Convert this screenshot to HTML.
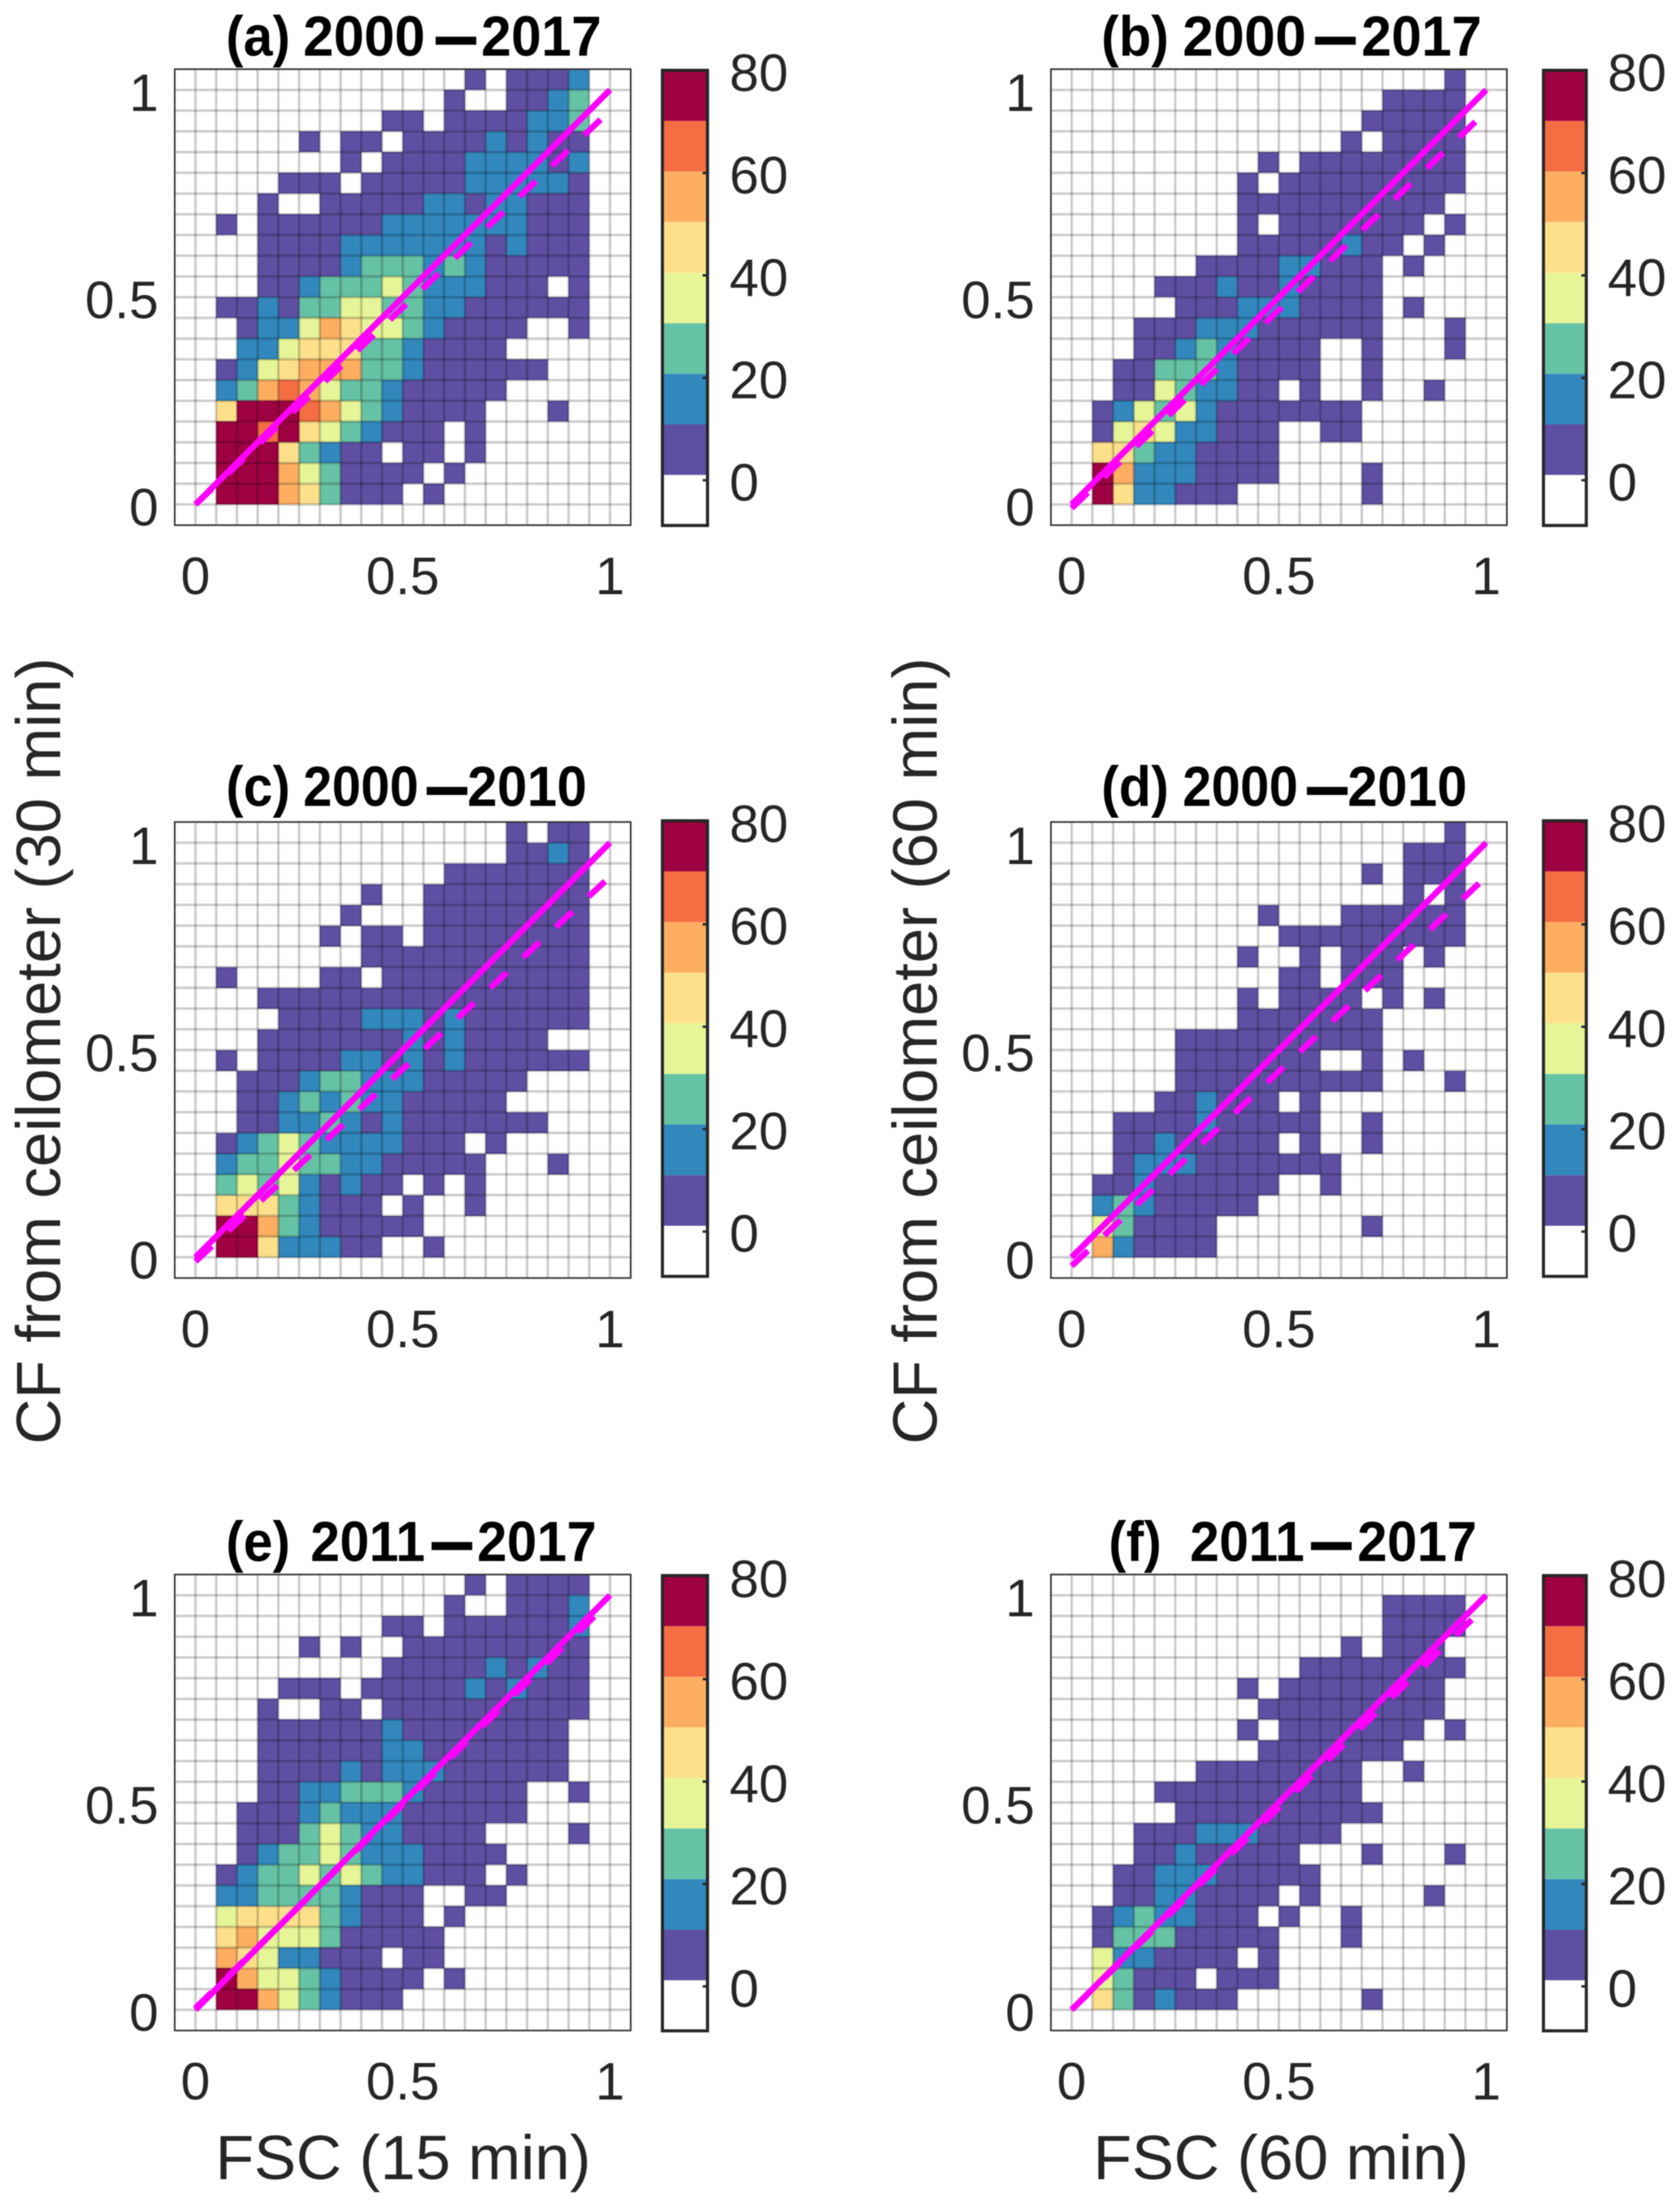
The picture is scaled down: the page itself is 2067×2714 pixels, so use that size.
<!DOCTYPE html>
<html lang="en">
<head>
<meta charset="utf-8">
<title>CF from ceilometer versus FSC</title>
<style>
html,body{margin:0;padding:0;background:#fff;}
svg{display:block;filter:blur(0.6px);}
text{font-family:"Liberation Sans",Arial,sans-serif;fill:#262626;}
</style>
</head>
<body>
<svg id="chart" xmlns="http://www.w3.org/2000/svg" width="2067" height="2714" viewBox="0 0 2067 2714">
<rect x="0" y="0" width="2067" height="2714" fill="#fff"/>
<text transform="translate(74,1293) rotate(-90)" text-anchor="middle" font-size="77" textLength="968" lengthAdjust="spacingAndGlyphs">CF from ceilometer (30 min)</text>
<text transform="translate(1152.7,1293) rotate(-90)" text-anchor="middle" font-size="77" textLength="968" lengthAdjust="spacingAndGlyphs">CF from ceilometer (60 min)</text>
<text x="265" y="2681" font-size="77" textLength="462" lengthAdjust="spacingAndGlyphs">FSC (15 min)</text>
<text x="1345" y="2681" font-size="77" textLength="462" lengthAdjust="spacingAndGlyphs">FSC (60 min)</text>
</svg>
<script>
// Heatmap counts: rows run top (CF 1.00-1.05) to bottom (CF 0.00-0.05); columns run FSC 0.05-0.10 to 0.95-1.00.
const countsA=[
[0,0,0,0,0,0,0,0,0,0,0,0,5,0,5,5,5,15],
[0,0,0,0,0,0,0,0,0,0,0,5,0,0,5,5,15,25],
[0,0,0,0,0,0,0,0,5,5,0,5,5,5,5,15,15,25],
[0,0,0,0,5,0,5,5,0,5,5,5,5,15,5,15,5,5],
[0,0,0,0,0,0,5,0,5,5,5,5,15,15,15,15,5,15],
[0,0,0,5,5,5,0,5,5,5,5,5,15,15,15,15,15,5],
[0,0,5,0,0,5,5,5,5,5,15,15,5,15,15,5,5,5],
[5,0,5,5,5,5,5,5,15,15,15,15,15,15,15,5,5,5],
[0,0,5,5,5,5,15,15,15,15,15,15,15,5,15,5,5,5],
[0,0,5,5,5,5,15,25,25,25,15,25,15,5,5,5,5,5],
[0,0,5,5,15,25,25,25,35,25,15,15,15,5,5,5,0,5],
[5,5,15,5,25,25,35,35,25,25,15,15,5,5,5,5,5,5],
[0,5,15,15,35,55,45,35,35,25,15,5,5,5,5,0,0,5],
[0,15,15,35,45,45,45,25,25,15,5,5,5,5,0,0,0,0],
[5,15,35,45,55,55,55,25,25,15,5,5,5,5,5,5,0,0],
[15,25,55,65,55,35,25,25,15,5,5,5,5,5,0,0,0,0],
[45,75,75,75,65,55,35,25,15,5,5,5,5,0,0,0,5,0],
[75,75,65,75,45,35,25,15,5,5,5,0,5,0,0,0,0,0],
[75,75,75,45,25,15,5,5,0,5,5,0,5,0,0,0,0,0],
[75,75,75,55,35,25,5,5,5,5,0,5,0,0,0,0,0,0],
[75,75,75,55,45,25,5,5,5,0,5,0,0,0,0,0,0,0]
];
const countsB=[
[0,0,0,0,0,0,0,0,0,0,0,0,0,0,0,0,0,5],
[0,0,0,0,0,0,0,0,0,0,0,0,0,0,5,5,5,5],
[0,0,0,0,0,0,0,0,0,0,0,0,0,5,5,5,5,5],
[0,0,0,0,0,0,0,0,0,0,0,0,5,0,5,5,5,5],
[0,0,0,0,0,0,0,0,5,0,5,5,5,5,5,5,5,5],
[0,0,0,0,0,0,0,5,0,5,5,5,5,5,5,5,5,5],
[0,0,0,0,0,0,0,5,5,5,5,5,5,5,5,5,5,0],
[0,0,0,0,0,0,0,5,0,5,5,5,5,5,5,5,0,5],
[0,0,0,0,0,0,0,5,5,5,5,5,15,5,5,0,5,0],
[0,0,0,0,0,5,5,5,5,15,15,5,5,5,0,5,0,0],
[0,0,0,5,5,5,15,5,5,15,5,5,5,5,0,0,0,0],
[0,0,0,0,5,5,5,15,15,15,5,5,5,5,0,5,0,0],
[0,0,5,5,5,15,15,15,5,5,5,5,5,5,0,0,0,5],
[0,0,5,5,15,25,15,5,5,5,5,0,0,5,0,0,0,5],
[0,5,5,25,25,25,15,5,5,5,5,0,0,5,0,0,0,0],
[0,5,5,35,25,15,15,5,5,0,5,0,0,5,0,0,5,0],
[5,15,35,25,35,15,5,5,5,5,5,5,5,0,0,0,0,0],
[5,35,45,35,15,15,5,5,5,0,0,5,5,0,0,0,0,0],
[45,45,25,15,15,5,5,5,5,0,0,0,0,0,0,0,0,0],
[75,55,15,15,15,5,5,5,5,0,0,0,0,5,0,0,0,0],
[75,45,15,15,5,5,5,0,0,0,0,0,0,5,0,0,0,0]
];
const countsC=[
[0,0,0,0,0,0,0,0,0,0,0,0,0,0,5,0,5,5],
[0,0,0,0,0,0,0,0,0,0,0,0,0,0,5,5,15,5],
[0,0,0,0,0,0,0,0,0,0,0,5,5,5,5,5,5,5],
[0,0,0,0,0,0,0,5,0,0,5,5,5,5,5,5,5,5],
[0,0,0,0,0,0,5,0,0,0,5,5,5,5,5,5,5,5],
[0,0,0,0,0,5,0,5,5,0,5,5,5,5,5,5,5,5],
[0,0,0,0,0,0,0,5,5,5,5,5,5,5,5,5,5,5],
[5,0,0,0,0,5,5,0,5,5,5,5,5,5,5,5,5,5],
[0,0,5,5,5,5,5,5,5,5,5,5,5,5,5,5,5,5],
[0,0,0,5,5,5,5,15,15,15,5,15,5,5,5,5,5,5],
[0,0,5,5,5,5,5,5,5,15,5,15,5,5,5,5,0,0],
[5,0,5,5,5,5,15,15,5,15,5,15,5,5,5,5,5,5],
[0,5,5,5,15,25,25,15,15,15,5,5,5,5,5,0,0,0],
[0,5,5,15,25,15,25,15,15,5,5,5,5,5,0,0,0,0],
[0,5,5,15,15,25,15,5,15,5,5,5,5,5,5,5,0,0],
[5,15,25,35,25,15,15,15,15,5,5,5,0,5,0,0,0,0],
[15,25,25,35,25,25,15,15,5,5,5,5,5,0,0,0,5,0],
[25,35,25,35,15,5,15,5,5,0,5,0,5,0,0,0,0,0],
[45,45,45,25,15,5,5,5,0,5,0,0,5,0,0,0,0,0],
[75,75,55,25,15,5,5,5,5,5,0,0,0,0,0,0,0,0],
[75,75,45,15,15,15,5,5,0,0,5,0,0,0,0,0,0,0]
];
const countsD=[
[0,0,0,0,0,0,0,0,0,0,0,0,0,0,0,0,0,5],
[0,0,0,0,0,0,0,0,0,0,0,0,0,0,0,5,5,5],
[0,0,0,0,0,0,0,0,0,0,0,0,0,5,0,5,5,5],
[0,0,0,0,0,0,0,0,0,0,0,0,0,0,0,5,0,5],
[0,0,0,0,0,0,0,0,5,0,0,0,5,5,5,5,5,5],
[0,0,0,0,0,0,0,0,0,5,5,5,5,5,5,5,5,5],
[0,0,0,0,0,0,0,5,0,0,5,0,5,5,5,0,5,0],
[0,0,0,0,0,0,0,0,0,5,5,0,5,5,5,0,0,0],
[0,0,0,0,0,0,0,5,0,5,5,5,5,0,5,0,5,0],
[0,0,0,0,0,0,0,5,5,5,5,5,5,5,0,0,0,0],
[0,0,0,0,5,5,5,5,5,5,5,5,5,5,0,0,0,0],
[0,0,0,0,5,5,5,5,5,5,5,0,0,5,0,5,0,0],
[0,0,0,0,5,5,5,5,5,5,5,5,5,5,0,0,0,5],
[0,0,0,5,5,15,5,5,5,0,5,0,0,0,0,0,0,0],
[0,5,5,5,5,15,5,5,5,5,5,0,0,5,0,0,0,0],
[0,5,5,15,5,5,5,5,5,0,5,0,0,5,0,0,0,0],
[0,5,15,15,15,5,5,5,5,5,5,5,0,0,0,0,0,0],
[5,5,15,5,5,5,5,5,5,0,0,5,0,0,0,0,0,0],
[15,25,15,5,5,5,5,5,0,0,0,0,0,0,0,0,0,0],
[35,25,5,5,5,5,0,0,0,0,0,0,0,5,0,0,0,0],
[55,15,5,5,5,5,0,0,0,0,0,0,0,0,0,0,0,0]
];
const countsE=[
[0,0,0,0,0,0,0,0,0,0,0,0,5,0,5,5,5,5],
[0,0,0,0,0,0,0,0,0,0,0,5,0,0,5,5,5,15],
[0,0,0,0,0,0,0,0,5,5,0,5,5,5,5,5,5,15],
[0,0,0,0,5,0,5,0,0,5,5,5,5,5,5,5,5,5],
[0,0,0,0,0,0,0,0,5,5,5,5,5,15,5,15,5,5],
[0,0,0,5,5,5,0,5,5,5,5,5,15,5,15,5,5,5],
[0,0,5,0,0,5,5,0,5,5,5,5,5,5,5,5,5,5],
[0,0,5,5,5,5,5,5,15,5,5,5,5,5,5,5,5,0],
[0,0,5,5,5,5,5,5,15,15,5,5,5,5,5,5,5,0],
[0,0,5,5,5,5,15,5,15,15,15,5,5,5,5,5,5,0],
[0,0,5,5,15,15,25,25,25,15,5,5,5,5,5,0,0,5],
[0,5,5,5,15,25,15,15,15,5,5,5,5,5,5,0,0,0],
[0,5,5,5,25,35,25,15,15,5,5,5,5,0,0,0,0,5],
[0,5,15,25,25,35,25,15,15,15,5,5,5,5,0,0,0,0],
[5,15,25,25,35,25,35,25,15,15,5,5,5,0,5,0,0,0],
[15,15,25,25,25,25,15,5,5,5,0,0,5,5,0,0,0,0],
[35,45,45,45,45,25,15,5,5,5,0,5,0,0,0,0,0,0],
[45,55,35,35,35,25,5,5,5,5,5,0,0,0,0,0,0,0],
[55,45,35,15,15,5,5,5,0,5,5,0,0,0,0,0,0,0],
[75,55,35,35,25,15,5,5,5,5,0,5,0,0,0,0,0,0],
[75,75,55,35,25,15,5,5,5,0,0,0,0,0,0,0,0,0]
];
const countsF=[
[0,0,0,0,0,0,0,0,0,0,0,0,0,0,0,0,0,0],
[0,0,0,0,0,0,0,0,0,0,0,0,0,0,5,5,5,5],
[0,0,0,0,0,0,0,0,0,0,0,0,0,0,5,5,5,5],
[0,0,0,0,0,0,0,0,0,0,0,0,5,0,5,5,5,0],
[0,0,0,0,0,0,0,0,0,0,5,5,5,5,5,5,5,5],
[0,0,0,0,0,0,0,5,0,5,5,5,5,5,5,5,5,0],
[0,0,0,0,0,0,0,0,5,5,5,5,5,5,5,5,5,0],
[0,0,0,0,0,0,0,5,0,5,5,5,5,5,5,5,0,5],
[0,0,0,0,0,0,0,0,5,5,5,5,5,5,5,0,0,0],
[0,0,0,0,0,5,5,5,5,5,5,5,5,0,0,5,0,0],
[0,0,0,5,5,5,5,5,5,5,5,5,5,0,0,0,0,0],
[0,0,0,0,5,5,5,5,5,5,5,5,5,5,0,0,0,0],
[0,0,5,5,5,15,15,15,5,5,5,5,0,0,0,0,0,0],
[0,0,5,5,15,5,5,5,5,5,0,0,0,5,0,0,0,5],
[0,5,5,15,15,15,5,5,5,5,5,0,0,0,0,0,0,0],
[0,5,5,15,15,5,5,5,5,0,5,0,0,0,0,0,5,0],
[5,15,25,15,15,5,5,5,0,5,0,0,5,0,0,0,0,0],
[5,25,25,25,5,5,5,5,5,0,0,0,5,0,0,0,0,0],
[35,15,15,5,5,5,5,0,5,0,0,0,0,0,0,0,0,0],
[35,25,5,5,5,0,5,5,5,0,0,0,0,0,0,0,0,0],
[45,25,5,15,5,5,5,0,0,0,0,0,0,5,0,0,0,0]
];
const panelCounts=[countsA,countsB,countsC,countsD,countsE,countsF];

// Fitted (dashed) line for each panel, and the 1:1 reference line.
const fitSlope=[0.95,0.957,0.928,0.939,0.982,0.975];
const fitIntercept=[0,-0.009,-0.01,-0.021,0.004,0];
const fitX=[0,1];
const refX=[0,1];
const refY=[0,1];

// Tick values and labels.
const axisTicks=[0,0.5,1];
const axisTickLabels=["0","0.5","1"];
const colorbarTicks=[0,20,40,60,80];
const colorbarTickLabels=["0","20","40","60","80"];

// Colour scale.
const colorbarMin=-8.9;
const colorbarMax=80;
const levelColors=["#ffffff","#5e4fa2","#3288bd","#66c2a5","#e6f598","#fee08b","#fdae61","#f46d43","#9e0142"];

// Histogram bin definition.
const firstColumnStart=0.05;
const topRowEnd=1.05;
const binSize=0.05;
const axisMin=-0.05;
const axisMax=1.05;

// Page layout (pixels).
const unitPx=510;
const colorbarPxPerCount=6.3;
const panelLayout=[
 {key:"a",x0:240.5,y0:620.6,barL:815,barR:870.5,barTop:86.5,barBottom:646.5,barZero:590.8,barText:897.5,titleY:68.4,
  title:[["(a)",278,79],["2000",373,150],["\u2014",537,48],["2017",592,148]]},
 {key:"b",x0:1318.5,y0:620.6,barL:1899,barR:1951.7,barTop:86.5,barBottom:646.5,barZero:590.8,barText:1978,titleY:68.4,
  title:[["(b)",1355,83],["2000",1455,152],["\u2014",1619,48],["2017",1675,148]]},
 {key:"c",x0:240.5,y0:1546.8,barL:815,barR:870.5,barTop:1009.8,barBottom:1570.3,barZero:1515.2,barText:897.5,titleY:991.3,
  title:[["(c)",278,79],["2000",373,142],["\u2014",526,48],["2010",575,147]]},
 {key:"d",x0:1318.5,y0:1546.8,barL:1899,barR:1951.7,barTop:1009.8,barBottom:1570.3,barZero:1515.2,barText:1978,titleY:991.3,
  title:[["(d)",1355,83],["2000",1455,142],["\u2014",1609,48],["2010",1658,147]]},
 {key:"e",x0:240.5,y0:2472.6,barL:815,barR:870.5,barTop:1938.4,barBottom:2498.5,barZero:2443.8,barText:897.5,titleY:1920.4,
  title:[["(e)",278,79],["2011",382,141],["\u2014",532,48],["2017",587,147]]},
 {key:"f",x0:1318.5,y0:2472.6,barL:1899,barR:1951.7,barTop:1938.4,barBottom:2498.5,barZero:2443.8,barText:1978,titleY:1920.4,
  title:[["(f)",1364,65],["2011",1464,141],["\u2014",1614,48],["2017",1670,147]]}
];

const SVG_NS="http://www.w3.org/2000/svg";
const root=document.getElementById("chart");
function mk(tag,attrs,parent){
  const node=document.createElementNS(SVG_NS,tag);
  for(const k in attrs){node.setAttribute(k,attrs[k]);}
  parent.appendChild(node);
  return node;
}
function levelFor(v){
  const i=Math.floor((v-colorbarMin)/(colorbarMax-colorbarMin)*levelColors.length);
  return Math.max(0,Math.min(levelColors.length-1,i));
}

panelLayout.forEach(function(L,p){
  const sx=function(v){return L.x0+v*unitPx;};
  const sy=function(v){return L.y0-v*unitPx;};
  const cy=function(v){return L.barZero-v*colorbarPxPerCount;};

  const panel=mk("g",{},root);
  
  

  const titleGroup=mk("g",{},panel);
  
  
  L.title.forEach(function(t){
    const isDash=t[0]==="\u2014";
    const tt=mk("text",{x:t[1],y:L.titleY,"font-size":70,"font-weight":"bold",textLength:t[2],lengthAdjust:"spacingAndGlyphs",style:isDash?"fill:#000;stroke:#000;stroke-width:3":"fill:#000"},titleGroup);
    
    
    tt.textContent=t[0];
  });

  const bg=mk("rect",{x:sx(axisMin),y:sy(axisMax),width:sx(axisMax)-sx(axisMin),height:sy(axisMin)-sy(axisMax),fill:"#fff"},panel);
  
  

  const cellGroup=mk("g",{"shape-rendering":"crispEdges"},panel);
  
  
  panelCounts[p].forEach(function(row,r){
    row.forEach(function(value,c){
      const level=levelFor(value);
      if(level===0){return;}
      const xa=firstColumnStart+c*binSize;
      const yb=topRowEnd-r*binSize;
      const cell=mk("rect",{x:sx(xa),y:sy(yb),width:sx(xa+binSize)-sx(xa),height:sy(yb-binSize)-sy(yb),fill:levelColors[level]},cellGroup);
      
      
    });
  });

  const gridGroup=mk("g",{stroke:"#000","stroke-opacity":"0.2","stroke-width":"3"},panel);
  
  
  const gridCount=Math.round((axisMax-axisMin)/binSize);
  for(let i=1;i<gridCount;i++){
    const g=axisMin+i*binSize;
    const gv=mk("line",{x1:sx(g),x2:sx(g),y1:sy(axisMin),y2:sy(axisMax)},gridGroup);
    
    
    const gh=mk("line",{x1:sx(axisMin),x2:sx(axisMax),y1:sy(g),y2:sy(g)},gridGroup);
    
    
  }

  const fit=mk("line",{x1:sx(fitX[0]),y1:sy(fitSlope[p]*fitX[0]+fitIntercept[p]),x2:sx(fitX[1]),y2:sy(fitSlope[p]*fitX[1]+fitIntercept[p]),stroke:"#ff00ff","stroke-width":"7.5","stroke-dasharray":"27.5 27.5"},panel);
  
  

  const ref=mk("line",{x1:sx(refX[0]),y1:sy(refY[0]),x2:sx(refX[1]),y2:sy(refY[1]),stroke:"#ff00ff","stroke-width":"7.5"},panel);
  
  

  const box=mk("rect",{x:sx(axisMin),y:sy(axisMax),width:sx(axisMax)-sx(axisMin),height:sy(axisMin)-sy(axisMax),fill:"none",stroke:"#333","stroke-width":"2"},panel);
  
  

  axisTicks.forEach(function(t,i){
    const xl=mk("text",{x:sx(t),y:sy(axisMin)+85,"font-size":65,"text-anchor":"middle"},panel);
    
    
    xl.textContent=axisTickLabels[i];
    const yl=mk("text",{x:sx(axisMin)-20,y:sy(t)+26,"font-size":65,"text-anchor":"end"},panel);
    
    
    yl.textContent=axisTickLabels[i];
  });

  const bar=mk("g",{},panel);
  
  
  const bandH=(L.barBottom-L.barTop)/levelColors.length;
  levelColors.forEach(function(col,i){
    const band=mk("rect",{x:L.barL,width:L.barR-L.barL,y:L.barBottom-(i+1)*bandH,height:bandH,fill:col},bar);
    
    
  });
  const barBox=mk("rect",{x:L.barL,y:L.barTop,width:L.barR-L.barL,height:L.barBottom-L.barTop,fill:"none",stroke:"#262626","stroke-width":"3.8"},bar);
  
  
  colorbarTicks.forEach(function(t,i){
    const tick=mk("line",{x1:L.barR-6,x2:L.barR,y1:cy(t),y2:cy(t),stroke:"#262626","stroke-width":"3"},bar);
    
    
    const lab=mk("text",{x:L.barText,y:cy(t)+25,"font-size":65},bar);
    
    
    lab.textContent=colorbarTickLabels[i];
  });
});
</script>
</body>
</html>
